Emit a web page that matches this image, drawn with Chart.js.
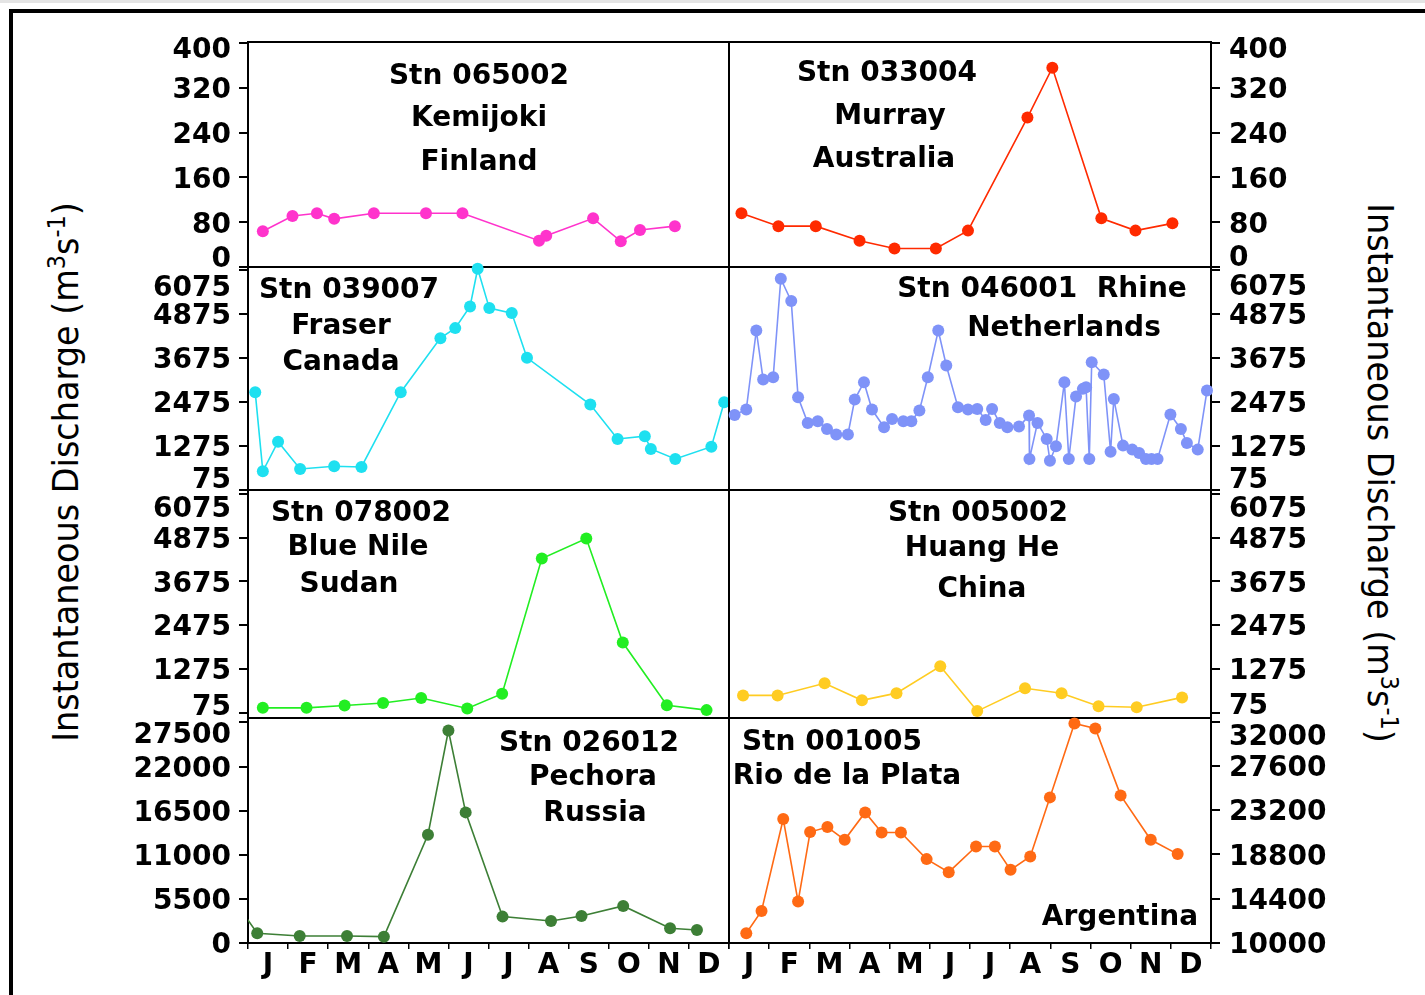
<!DOCTYPE html>
<html>
<head>
<meta charset="utf-8">
<script src="https://cdn.jsdelivr.net/npm/chart.js@4.4.1/dist/chart.umd.min.js"></script>
<style>
  html, body { margin: 0; padding: 0; background: #fff; }
  #page { position: relative; width: 1425px; height: 995px; overflow: hidden; background: #fff; }
  #strip { position: absolute; left: 0; top: 0; width: 1425px; height: 3px; background: #e4e4e4; }
  #frame { position: absolute; left: 9px; top: 9px; width: 1500px; height: 1100px;
           border-left: 4px solid #000; border-top: 4px solid #000; }
  canvas.panel { position: absolute; }
  .note { position: absolute; transform: translate(-50%, -50%); font: bold 28px 'DejaVu Sans', sans-serif;
          white-space: pre; color: #000; z-index: 5; line-height: 1; }
  .ytitle { position: absolute; white-space: nowrap; font: 36px 'DejaVu Sans', sans-serif;
            color: #000; z-index: 5; line-height: 1; }
  .ytitle sup { font-size: 24px; }
</style>
</head>
<body>
<div id="page">
  <div id="strip"></div>
  <div id="frame"></div>
  <div class="ytitle" style="left:64px; top:472px; transform:translate(-50%,-50%) rotate(-90deg) scaleX(0.93);">Instantaneous Discharge (m<sup>3</sup>s<sup>-1</sup>)</div>
  <div class="ytitle" style="left:1381px; top:473px; transform:translate(-50%,-50%) rotate(90deg) scaleX(0.93);">Instantaneous Discharge (m<sup>3</sup>s<sup>-1</sup>)</div>
</div>
<script>
// month axis
const months = ['J', 'F', 'M', 'A', 'M', 'J', 'J', 'A', 'S', 'O', 'N', 'D'];

// tick values
const ticksSmall = [0, 80, 160, 240, 320, 400];
const ticksMid = [75, 1275, 2475, 3675, 4875, 6075];
const ticksPechora = [0, 5500, 11000, 16500, 22000, 27500];
const ticksRio = [10000, 14400, 18800, 23200, 27600, 32000];

// series: time in months from 1 Jan, discharge in m3/s
const kemiMonth = [0.37, 1.11, 1.72, 2.15, 3.14, 4.44, 5.35, 7.26, 7.44, 8.61, 9.30, 9.78, 10.65];
const kemiFlow = [64, 91, 96, 86, 96, 96, 96, 47, 56, 87, 46, 66, 73];

const murMonth = [0.31, 1.23, 2.16, 3.25, 4.12, 5.15, 5.95, 7.43, 8.05, 9.27, 10.12, 11.04];
const murFlow = [96, 73, 73, 47, 33, 33, 65, 267, 356, 87, 65, 78];

const fraMonth = [0.18, 0.37, 0.75, 1.30, 2.15, 2.83, 3.81, 4.80, 5.17, 5.54, 5.73, 6.02, 6.58, 6.96,
                  8.54, 9.22, 9.90, 10.05, 10.66, 11.56, 11.88];
const fraFlow = [2740, 585, 1392, 648, 722, 703, 2740, 4212, 4485, 5074, 6102, 5030, 4894, 3675,
                 2402, 1466, 1540, 1193, 921, 1256, 2467];

const rhiMonth = [0.14, 0.43, 0.68, 0.85, 1.10, 1.29, 1.55, 1.72, 1.96, 2.21, 2.44, 2.67, 2.96, 3.13,
                  3.36, 3.56, 3.86, 4.06, 4.34, 4.54, 4.74, 4.95, 5.21, 5.41, 5.70, 5.95, 6.18, 6.39,
                  6.55, 6.74, 6.93, 7.22, 7.47, 7.48, 7.68, 7.91, 7.99, 8.14, 8.35, 8.46, 8.64, 8.81,
                  8.89, 8.97, 9.03, 9.33, 9.50, 9.58, 9.81, 10.04, 10.21, 10.38, 10.52, 10.67, 10.99,
                  11.25, 11.40, 11.67, 11.90];
const rhiFlow = [2121, 2266, 4420, 3084, 3148, 5830, 5221, 2602, 1903, 1948, 1739, 1584, 1584, 2538,
                 3012, 2266, 1785, 2012, 1948, 1948, 2238, 3148, 4420, 3466, 2331, 2266, 2284, 1984,
                 2284, 1903, 1785, 1802, 2102, 921, 1903, 1466, 875, 1267, 3012, 921, 2620, 2830,
                 2876, 921, 3558, 3220, 1120, 2557, 1284, 1175, 1085, 921, 921, 921, 2129,
                 1739, 1357, 1175, 2784];

const nileMonth = [0.37, 1.46, 2.41, 3.37, 4.32, 5.47, 6.34, 7.33, 8.44, 9.35, 10.45, 11.44];
const nileFlow = [208, 208, 272, 342, 477, 191, 595, 4303, 4848, 1998, 280, 146];

const huangMonth = [0.35, 1.21, 2.38, 3.31, 4.17, 5.26, 6.18, 7.37, 8.28, 9.20, 10.15, 11.28];
const huangFlow = [549, 549, 880, 414, 611, 1347, 119, 745, 611, 253, 226, 495];

const pechMonth = [-0.3, 0.23, 1.29, 2.47, 3.39, 4.49, 5.00, 5.43, 6.35, 7.56, 8.32, 9.36, 10.53, 11.20];
const pechFlow = [5000, 1212, 875, 875, 790, 13500, 26500, 16290, 3290, 2750, 3375, 4625, 1840, 1625];

const rioMonth = [0.43, 0.81, 1.35, 1.72, 2.02, 2.45, 2.88, 3.39, 3.80, 4.28, 4.92, 5.47, 6.15, 6.62,
                  7.01, 7.50, 7.99, 8.60, 9.12, 9.75, 10.50, 11.17];
const rioFlow = [10966, 13186, 22315, 14111, 21020, 21518, 20254, 22971, 20980, 20980, 18332, 17038,
                 19587, 19587, 17267, 18591, 24465, 31801, 31303, 24664, 20254, 18830];

const FONT = "'DejaVu Sans', sans-serif";
const rowTop = [42, 267, 490, 718];
const rowBottom = [267, 490, 718, 943];

const panels = [
  { row: 0, col: 0, month: kemiMonth, flow: kemiFlow, color: '#ff33cc', yMin: 0, yMax: 402, yTicks: ticksSmall, up: 5, down: 10 },
  { row: 0, col: 1, month: murMonth, flow: murFlow, color: '#ff2a00', yMin: 0, yMax: 402, yTicks: ticksSmall, up: 5, down: 11 },
  { row: 1, col: 0, month: fraMonth, flow: fraFlow, color: '#1ee0f0', yMin: 75, yMax: 6150, yTicks: ticksMid, up: 16, down: 12 },
  { row: 1, col: 1, month: rhiMonth, flow: rhiFlow, color: '#7f93f8', yMin: 75, yMax: 6150, yTicks: ticksMid, up: 15, down: 12 },
  { row: 2, col: 0, month: nileMonth, flow: nileFlow, color: '#22ee22', yMin: -70, yMax: 6180, yTicks: ticksMid, up: 13, down: 8 },
  { row: 2, col: 1, month: huangMonth, flow: huangFlow, color: '#ffcc22', yMin: -70, yMax: 6180, yTicks: ticksMid, up: 13, down: 9 },
  { row: 3, col: 0, month: pechMonth, flow: pechFlow, color: '#3d7f36', yMin: 0, yMax: 28060, yTicks: ticksPechora, up: 10, down: 0,
    clip: { left: 0, top: false, right: false, bottom: false } },
  { row: 3, col: 1, month: rioMonth, flow: rioFlow, color: '#ff6a14', yMin: 10000, yMax: 32350, yTicks: ticksRio, up: 13, down: 0 }
];

const notes = [
  ['Stn 065002', 479, 75], ['Kemijoki', 479, 117], ['Finland', 479, 161],
  ['Stn 033004', 887, 72], ['Murray', 890, 115], ['Australia', 884, 158],
  ['Stn 039007', 349, 289], ['Fraser', 341, 325], ['Canada', 341, 361],
  ['Stn 046001  Rhine', 1042, 288], ['Netherlands', 1064, 327],
  ['Stn 078002', 361, 512], ['Blue Nile', 358, 546], ['Sudan', 349, 583],
  ['Stn 005002', 978, 512], ['Huang He', 982, 547], ['China', 982, 588],
  ['Stn 026012', 589, 742], ['Pechora', 593, 776], ['Russia', 595, 812],
  ['Stn 001005', 832, 741], ['Rio de la Plata', 847, 775], ['Argentina', 1120, 916]
];

const halfMonthTicks = months.flatMap((m, i) => [i, i + 0.5]).concat([12]);

const panelFrame = {
  id: 'panelFrame',
  beforeDatasetsDraw(chart) {
    const { ctx, chartArea: a } = chart;
    ctx.save();
    ctx.strokeStyle = '#000';
    ctx.lineWidth = 2;
    ctx.strokeRect(a.left, a.top, a.right - a.left, a.bottom - a.top);
    ctx.restore();
  }
};

const page = document.getElementById('page');

panels.forEach(p => {
  const left = p.col === 0 ? 110 : 713;
  const right = p.col === 0 ? 745 : 1340;
  const top = rowTop[p.row] - 24;
  const bottom = p.row === 3 ? 995 : rowBottom[p.row] + 24;
  const canvas = document.createElement('canvas');
  canvas.className = 'panel';
  canvas.width = right - left;
  canvas.height = bottom - top;
  canvas.style.left = left + 'px';
  canvas.style.top = top + 'px';
  canvas.style.width = (right - left) + 'px';
  canvas.style.height = (bottom - top) + 'px';
  page.appendChild(canvas);

  const last = p.yTicks.length - 1;
  const showX = p.row === 3;

  new Chart(canvas, {
    type: 'line',
    data: {
      datasets: [{
        data: p.month.map((m, i) => ({ x: m, y: p.flow[i] })),
        borderColor: p.color,
        backgroundColor: p.color,
        pointBackgroundColor: p.color,
        borderWidth: 1.6,
        pointRadius: 6,
        pointBorderWidth: 0,
        tension: 0,
        clip: p.clip || false
      }]
    },
    options: {
      responsive: false,
      animation: false,
      devicePixelRatio: 1,
      events: [],
      layout: { padding: { left: p.col === 1 ? 16 : 0, right: p.col === 0 ? 16 : 0, top: 24, bottom: showX ? 0 : 24 } },
      plugins: { legend: { display: false }, tooltip: { enabled: false } },
      scales: {
        x: {
          type: 'linear', min: 0, max: 12, display: showX,
          afterBuildTicks: s => { s.ticks = halfMonthTicks.map(v => ({ value: v })); },
          afterFit: s => { s.height = showX ? 52 : 0; s.paddingLeft = 0; s.paddingRight = 0; },
          ticks: {
            autoSkip: false, maxRotation: 0, minRotation: 0, padding: 0, color: '#000',
            font: { family: FONT, size: 28, weight: 'bold' },
            callback: v => Number.isInteger(v) ? '' : months[Math.floor(v)]
          },
          grid: {
            drawOnChartArea: false, tickLength: 6, lineWidth: 1.5,
            color: c => (c.tick && Number.isInteger(c.tick.value)) ? '#000' : 'rgba(0,0,0,0)'
          },
          border: { display: false }
        },
        y: {
          type: 'linear', position: p.col === 0 ? 'left' : 'right', min: p.yMin, max: p.yMax,
          afterBuildTicks: s => { s.ticks = p.yTicks.map(v => ({ value: v })); },
          afterFit: s => { s.width = p.col === 0 ? 138 : 129; s.paddingTop = 0; s.paddingBottom = 0; },
          ticks: {
            autoSkip: false, padding: p.col === 0 ? 8 : 9, color: '#000', labelOffset: 3,
            font: c => {
              let lh = 1.2;
              if (c.index === last && p.up > 0) lh = (2 * p.up) + 'px';
              if (c.index === 0 && p.down > 0) lh = (2 * p.down) + 'px';
              return { family: FONT, size: 28, weight: 'bold', lineHeight: lh };
            },
            callback: (v, i) => {
              const label = String(v);
              if (i === last && p.up > 0) return ['', label];
              if (i === 0 && p.down > 0) return [label, ''];
              return label;
            }
          },
          grid: { drawOnChartArea: false, tickLength: 9, lineWidth: 2, color: '#000' },
          border: { display: false }
        }
      }
    },
    plugins: [panelFrame]
  });
});

notes.forEach(([text, x, y]) => {
  const d = document.createElement('div');
  d.className = 'note';
  d.textContent = text;
  d.style.left = x + 'px';
  d.style.top = y + 'px';
  page.appendChild(d);
});
</script>
</body>
</html>
